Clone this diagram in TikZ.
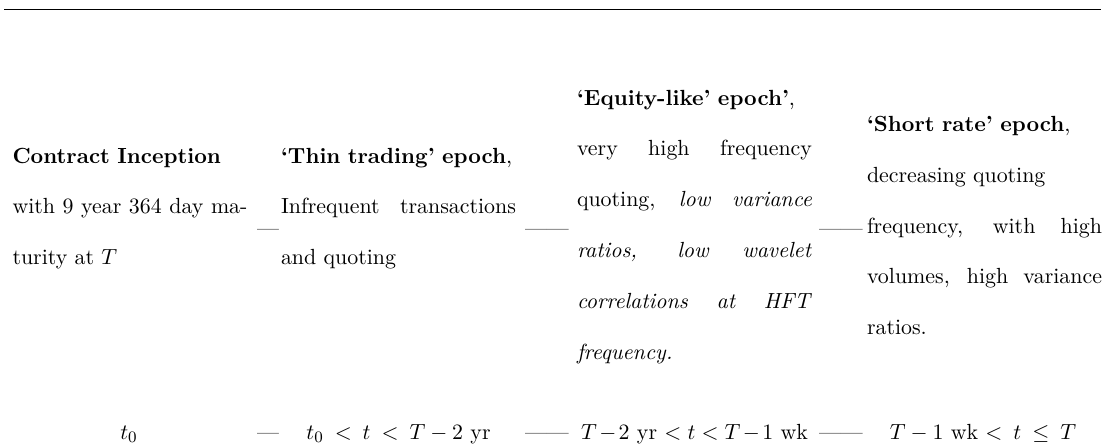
\documentclass[tikz,border=0pt]{standalone}
\newcommand{\fullline}[1]{{\spaceskip=0pt\relax\xspaceskip=0pt\relax\makebox[117.5pt][s]{#1}}}
\tikzset{
  desc/.style={anchor=base west, inner sep=0pt, outer sep=0pt, text width=117.5pt,
    align=left, font=\fontsize{10.95}{25.4}\selectfont},
  timelbl/.style={anchor=base, inner sep=0pt, outer sep=0pt, font=\fontsize{10.95}{13.6}\selectfont},
  dashtxt/.style={anchor=base west, inner sep=0pt, outer sep=0pt, font=\fontsize{10.95}{13.6}\selectfont},
  toprulestyle/.style={line width=0.8pt}
}
\begin{document}
\begin{tikzpicture}[x=0.5pt,y=-0.5pt]
\useasboundingbox (0,0) rectangle (1115,446);
% top rule
\coordinate (ruleL) at (4,9.5);
\coordinate (ruleR) at (1101,9.5);
\draw[toprulestyle] (ruleL) -- (ruleR);

% epoch descriptions
\node[desc] (c1) at (12.5,163) {\textbf{Contract Inception}\\
  \fullline{with 9 year 364 day ma-}\\
  turity at $T$};
\node[desc] (c2) at (281,163) {\textbf{`Thin trading' epoch},\\
  \fullline{Infrequent transactions}\\
  and quoting};
\node[desc] (c3) at (577,105) {\textbf{`Equity-like' epoch'},\\
  \fullline{very high frequency}\\
  \fullline{quoting, \textit{low variance}}\\
  \fullline{\textit{ratios, low wavelet}}\\
  \fullline{\textit{correlations at HFT}}\\
  \textit{frequency.}};
\node[desc] (c4) at (867,131.4) {\textbf{`Short rate' epoch},\\
  decreasing quoting\\
  \fullline{frequency, with high}\\
  \fullline{volumes, high variance}\\
  ratios.};

% separators, first row
\node[dashtxt] (d12) at (257,235) {---};
\node[dashtxt] (d23) at (525,235) {------};
\node[dashtxt] (d34) at (819,235) {------};

% time row
\node[timelbl] (t1) at (129,439) {$t_0$};
\node[timelbl] (t2) at (398.5,439) {$t_0\:<\:t\:<\:T-2$ yr};
\node[timelbl] (t3) at (694.5,439) {\medmuskip=2mu $T-2$ yr $< t < T-1$ wk};
\node[timelbl] (t4) at (983,439) {$T-1$ wk $<\:t\:\leq\:T$};

% separators, time row
\node[dashtxt] (e12) at (257,439) {---};
\node[dashtxt] (e23) at (525,439) {------};
\node[dashtxt] (e34) at (819,439) {------};
\end{tikzpicture}
\end{document}
